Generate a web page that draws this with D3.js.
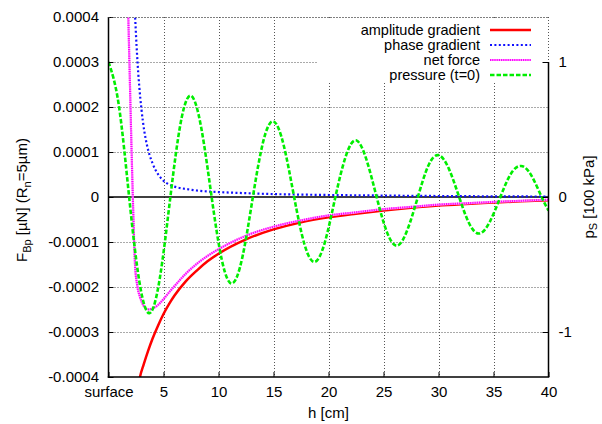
<!DOCTYPE html>
<html>
<head>
<meta charset="utf-8">
<script src="https://cdn.jsdelivr.net/npm/d3@7"></script>
<style>
  html, body { margin: 0; padding: 0; background: #fff; }
  svg { display: block; font-family: "Liberation Sans", Arial, Helvetica, sans-serif; }
  text { fill: #000; }
</style>
</head>
<body>
<svg id="chart" width="602" height="424"></svg>
<script>
// ---------- data ----------
// x positions in cm
const xTicks = [0, 5, 10, 15, 20, 25, 30, 35, 40];
const xTickLabels = ["surface", "5", "10", "15", "20", "25", "30", "35", "40"];
const yTicks = [-0.0004, -0.0003, -0.0002, -0.0001, 0, 0.0001, 0.0002, 0.0003, 0.0004];
const yTickLabels = ["-0.0004", "-0.0003", "-0.0002", "-0.0001", "0", "0.0001", "0.0002", "0.0003", "0.0004"];
const y2Ticks = [-1, 0, 1];
const y2TickLabels = ["-1", "0", "1"];

const seriesNames = ["amplitude gradient", "phase gradient", "net force", "pressure (t=0)"];

// amplitude gradient force [µN]
const ampH = [2.70, 2.86, 3.2, 3.6, 4.0, 4.5, 5.0, 5.5, 6.0, 7.0, 8.0, 9.0, 10, 12.5, 15, 17.5, 20, 22.5, 25, 27.5, 30, 32.5, 35, 37.5, 40];
const ampF = [-4.2e-4, -4.0e-4, -3.72e-4, -3.42e-4, -3.15e-4, -2.86e-4, -2.60e-4, -2.38e-4, -2.19e-4, -1.88e-4, -1.64e-4, -1.43e-4, -1.26e-4, -0.94e-4, -0.72e-4, -0.56e-4, -0.45e-4, -0.37e-4, -0.30e-4, -0.24e-4, -0.19e-4, -0.155e-4, -0.125e-4, -0.095e-4, -0.07e-4];

// phase gradient force [µN]
const phaseH = [2.30, 2.40, 2.50, 2.60, 2.80, 3.00, 3.25, 3.50, 4.00, 4.50, 5.00, 5.5, 6.0, 7.0, 8.0, 10, 12.5, 15, 20, 25, 30, 35, 40];
const phaseF = [4.77e-4, 4.13e-4, 3.6e-4, 3.15e-4, 2.45e-4, 1.94e-4, 1.47e-4, 1.15e-4, 0.75e-4, 0.51e-4, 0.36e-4, 0.28e-4, 0.23e-4, 0.18e-4, 0.145e-4, 0.11e-4, 0.085e-4, 0.065e-4, 0.045e-4, 0.032e-4, 0.022e-4, 0.015e-4, 0.01e-4];

// net force [µN]
const netH = [1.70, 1.80, 1.90, 2.00, 2.10, 2.20, 2.30, 2.41, 2.6, 2.86, 3.2, 3.6, 4.0, 4.5, 5.0, 5.5, 6.0, 7.0, 8.0, 9.0, 10, 12.5, 15, 17.5, 20, 22.5, 25, 27.5, 30, 32.5, 35, 37.5, 40];
const netF = [5.0e-4, 4.0e-4, 3.0e-4, 2.0e-4, 1.0e-4, 0.1e-4, -0.75e-4, -1.5e-4, -1.95e-4, -2.22e-4, -2.42e-4, -2.50e-4, -2.48e-4, -2.40e-4, -2.27e-4, -2.12e-4, -1.98e-4, -1.71e-4, -1.49e-4, -1.31e-4, -1.16e-4, -0.86e-4, -0.66e-4, -0.52e-4, -0.41e-4, -0.34e-4, -0.27e-4, -0.22e-4, -0.17e-4, -0.14e-4, -0.11e-4, -0.085e-4, -0.06e-4];

// pressure at t=0 [100 kPa] (right axis)
const presH = [0, 0.9375, 1.875, 2.8125, 3.75, 4.6875, 5.625, 6.5625, 7.5, 8.4375, 9.375, 10.3125, 11.25, 12.1875, 13.125, 14.0625, 15, 15.9375, 16.875, 17.8125, 18.75, 19.6875, 20.625, 21.5625, 22.5, 23.4375, 24.375, 25.3125, 26.25, 27.1875, 28.125, 29.0625, 30, 30.9375, 31.875, 32.8125, 33.75, 34.6875, 35.625, 36.5625, 37.5, 38.4375, 39.375, 40];
const presP = [1.00, 0.68, 0.00, -0.63, -0.86, -0.59, 0.00, 0.55, 0.75, 0.51, 0.00, -0.47, -0.64, -0.44, 0.00, 0.41, 0.56, 0.38, 0.00, -0.35, -0.48, -0.33, 0.00, 0.30, 0.42, 0.28, 0.00, -0.26, -0.36, -0.24, 0.00, 0.23, 0.31, 0.21, 0.00, -0.20, -0.27, -0.18, 0.00, 0.17, 0.23, 0.16, 0.00, -0.10];

// ---------- chart ----------
const svg = d3.select("#chart");
const L = 108.5, R = 548.5, T = 17, B = 377;
const x = d3.scaleLinear().domain([0, 40]).range([L, R]);
const y = d3.scaleLinear().domain([-0.0004, 0.0004]).range([B, T]);
const y2 = d3.scaleLinear().domain([-4/3, 4/3]).range([B, T]);
const fontSize = 15;

svg.append("defs").append("clipPath").attr("id", "plotclip")
  .append("rect").attr("x", L).attr("y", T).attr("width", R - L).attr("height", B - T);

// grid
const grid = svg.append("g").attr("stroke", "#555").attr("stroke-width", 1)
  .attr("stroke-dasharray", "1,2").attr("fill", "none");
yTicks.filter(v => v !== 0 && v > -0.0004).forEach(v => {
  grid.append("line").attr("x1", L).attr("x2", R).attr("y1", Math.round(y(v)) + 0.5).attr("y2", Math.round(y(v)) + 0.5);
});
xTicks.filter(v => v > 0 && v < 40).forEach(v => {
  grid.append("line").attr("x1", Math.round(x(v)) + 0.5).attr("x2", Math.round(x(v)) + 0.5).attr("y1", T).attr("y2", B);
});
grid.append("line").attr("x1", R).attr("x2", R).attr("y1", T).attr("y2", y2(1));

// legend background
svg.append("rect").attr("x", 318).attr("y", 20).attr("width", 229).attr("height", 62).attr("fill", "#fff");

// zero axis
svg.append("line").attr("x1", L).attr("x2", R).attr("y1", y(0)).attr("y2", y(0))
  .attr("stroke", "#000").attr("stroke-width", 1.3);

// curves
const plot = svg.append("g").attr("clip-path", "url(#plotclip)");
const lineF = d3.line().x(d => x(d[0])).y(d => y(d[1])).curve(d3.curveMonotoneX);
const lineP = d3.line().x(d => x(d[0])).y(d => y2(d[1])).curve(d3.curveNatural);

const ampData = ampH.map((h, i) => [h, ampF[i]]);
const phaseData = phaseH.map((h, i) => [h, phaseF[i]]);
const netData = netH.map((h, i) => [h, netF[i]]);
const presData = presH.map((h, i) => [h, presP[i]]);

const styles = [
  {color: "#ff0000", width: 2.5, dash: null},
  {color: "#1010ff", width: 2.2, dash: "2,2.4"},
  {color: "#ff00ff", width: 2.2, dash: "1.2,1", under: "#ffaaff"},
  {color: "#00ee00", width: 2.6, dash: "4.5,2"}
];

function drawPath(g, d, s) {
  if (s.under) g.append("path").attr("d", d).attr("fill", "none").attr("stroke", s.under).attr("stroke-width", s.width);
  const p = g.append("path").attr("d", d).attr("fill", "none").attr("stroke", s.color).attr("stroke-width", s.width);
  if (s.dash) p.attr("stroke-dasharray", s.dash);
}
drawPath(plot, lineF(ampData), styles[0]);
drawPath(plot, lineF(phaseData), styles[1]);
drawPath(plot, lineF(netData), styles[2]);
drawPath(plot, lineP(presData), styles[3]);

// axes
const xAxis = d3.axisBottom(x).tickValues(xTicks).tickFormat((d, i) => xTickLabels[i])
  .tickSizeInner(-5).tickSizeOuter(0).tickPadding(9.5);
const gx = svg.append("g").attr("transform", `translate(0,${B})`).call(xAxis);
const yAxis = d3.axisLeft(y).tickValues(yTicks).tickFormat((d, i) => yTickLabels[i])
  .tickSizeInner(-5).tickSizeOuter(0).tickPadding(9.5);
const gy = svg.append("g").attr("transform", `translate(${L},0)`).call(yAxis);
const y2Axis = d3.axisRight(y2).tickValues(y2Ticks).tickFormat((d, i) => y2TickLabels[i])
  .tickSizeInner(-6).tickSizeOuter(0).tickPadding(10);
const gy2 = svg.append("g").attr("transform", `translate(${R},0)`).call(y2Axis);
[gx, gy, gy2].forEach(g => {
  g.select(".domain").remove();
  g.selectAll("text").attr("font-size", fontSize).attr("font-family", "Liberation Sans, Arial, sans-serif").attr("fill", "#000");
  g.selectAll(".tick line").attr("stroke", "#000").attr("stroke-width", 1);
});
// border lines
const border = svg.append("g").attr("stroke", "#000").attr("stroke-width", 1.5);
border.append("line").attr("x1", L).attr("x2", L).attr("y1", T).attr("y2", B + 0.75);
border.append("line").attr("x1", L - 0.75).attr("x2", R + 0.75).attr("y1", B).attr("y2", B);
border.append("line").attr("x1", R).attr("x2", R).attr("y1", y2(1)).attr("y2", B);
svg.append("line").attr("x1", L).attr("x2", R).attr("y1", T + 0.5).attr("y2", T + 0.5)
  .attr("stroke", "#555").attr("stroke-width", 1).attr("stroke-dasharray", "1,2");

// axis titles
svg.append("text").attr("x", (L + R) / 2).attr("y", 418).attr("text-anchor", "middle")
  .attr("font-size", fontSize).text("h [cm]");

const yt = svg.append("text").attr("transform", "translate(27,200) rotate(-90)")
  .attr("text-anchor", "middle").attr("font-size", fontSize);
yt.append("tspan").text("F");
yt.append("tspan").attr("font-size", 11).attr("dy", 4).text("Bp");
yt.append("tspan").attr("dy", -4).text(" [\u00b5N] (R");
yt.append("tspan").attr("font-size", 11).attr("dy", 4).text("n");
yt.append("tspan").attr("dy", -4).text("=5\u00b5m)");

const y2t = svg.append("text").attr("transform", "translate(594,197) rotate(-90)")
  .attr("text-anchor", "middle").attr("font-size", fontSize);
y2t.append("tspan").text("p");
y2t.append("tspan").attr("font-size", 11).attr("dy", 3).text("S");
y2t.append("tspan").attr("dy", -3).text(" [100 kPa]");

// legend
const legend = svg.append("g");
seriesNames.forEach((name, i) => {
  const cy = 30 + i * 15;
  legend.append("text").attr("x", 480).attr("y", cy + 5).attr("text-anchor", "end")
    .attr("font-size", 14.5).text(name);
  drawPath(legend, `M490,${cy}L531,${cy}`, styles[i]);
});
</script>
</body>
</html>
